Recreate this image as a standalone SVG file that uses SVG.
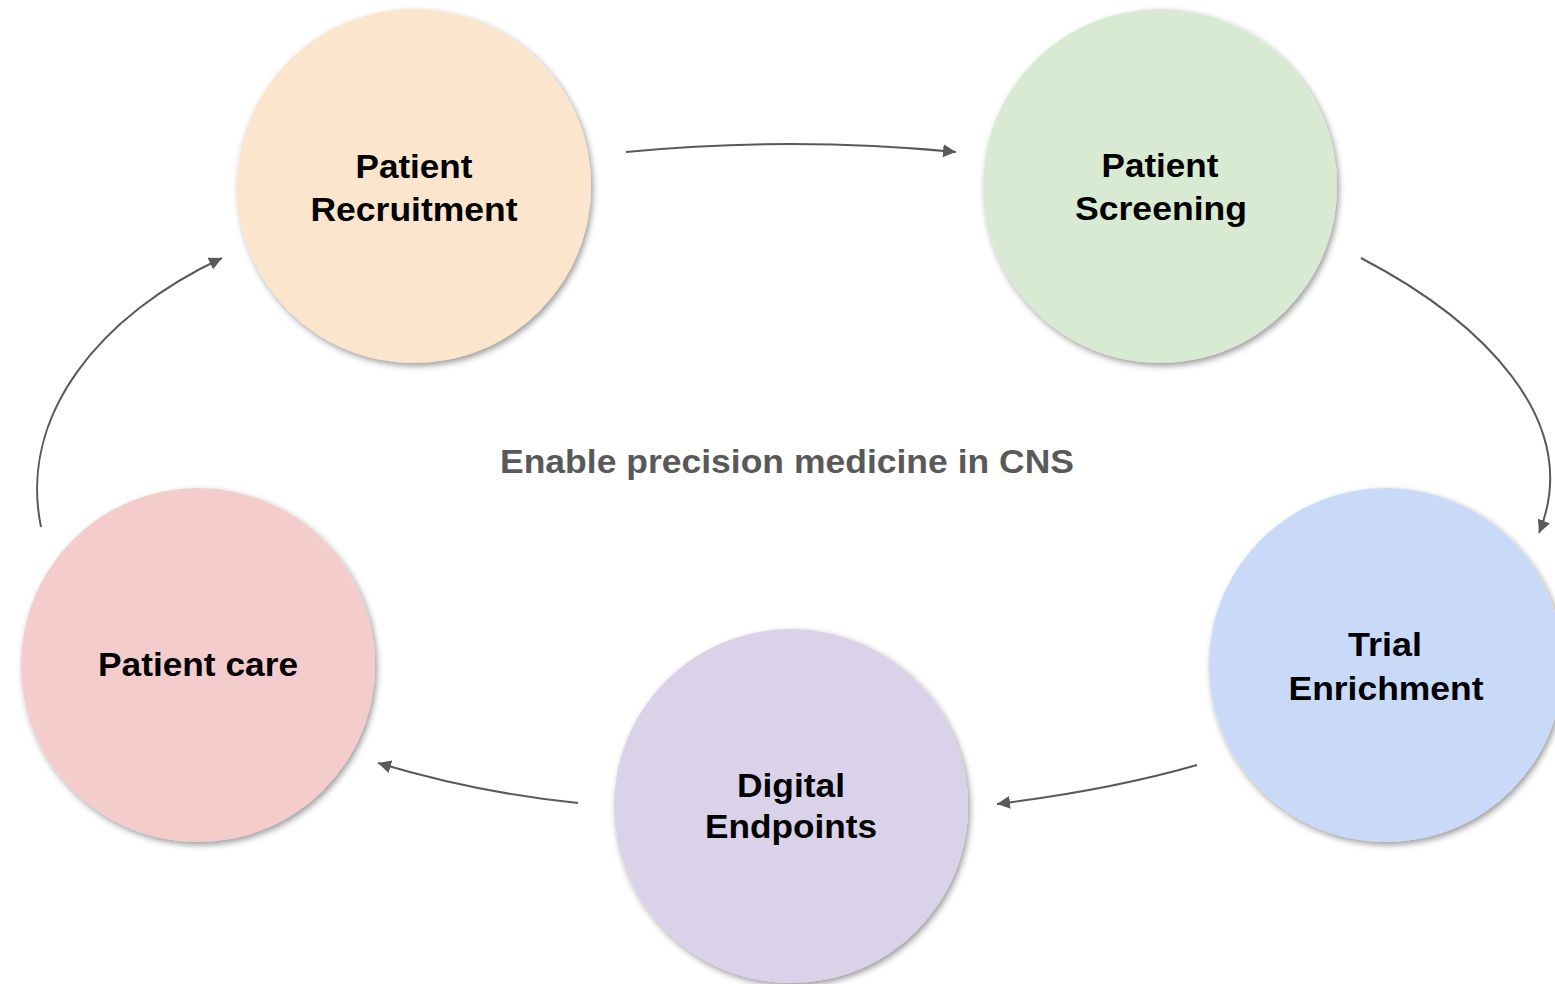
<svg xmlns="http://www.w3.org/2000/svg" width="1555" height="984" viewBox="0 0 1555 984">
<style>
.node text{font-family:"Liberation Sans",Arial,sans-serif;font-weight:bold;font-size:33px;fill:#000;text-anchor:middle}
.title{font-family:"Liberation Sans",Arial,sans-serif;font-weight:bold;font-size:33px;fill:#595959;text-anchor:middle}
.conn path{fill:none;stroke:#595959;stroke-width:2}
</style>
<defs>
<filter id="sh" x="-20%" y="-20%" width="140%" height="140%">
<feDropShadow dx="2" dy="3" stdDeviation="3" flood-color="#000" flood-opacity="0.4"/>
</filter>
<marker id="ah" markerUnits="userSpaceOnUse" markerWidth="14" markerHeight="13" refX="13" refY="6.5" orient="auto">
<path d="M0,0 L13,6.5 L0,13 z" fill="#595959"/>
</marker>
</defs>
<rect width="1555" height="984" fill="#fff"/>
<g class="conn" id="connectors">
<path d="M626,152 Q791,136 956,152" marker-end="url(#ah)"/>
<path d="M1361,258 C1480,320 1585,420 1539,533" marker-end="url(#ah)"/>
<path d="M1197,765 Q1110,790 997,804" marker-end="url(#ah)"/>
<path d="M578,803 Q478,793 378,763" marker-end="url(#ah)"/>
<path d="M41,527 C18,415 100,315 222,258" marker-end="url(#ah)"/>
</g>
<g class="node" id="recruitment">
<circle cx="414" cy="186" r="177" fill="#fce5cd" filter="url(#sh)"/>
<text x="414" y="178" textLength="117" lengthAdjust="spacingAndGlyphs">Patient</text>
<text x="414" y="221" textLength="207" lengthAdjust="spacingAndGlyphs">Recruitment</text>
</g>
<g class="node" id="screening">
<circle cx="1160" cy="186" r="177" fill="#d9ead3" filter="url(#sh)"/>
<text x="1160" y="177" textLength="117" lengthAdjust="spacingAndGlyphs">Patient</text>
<text x="1161" y="220" textLength="172" lengthAdjust="spacingAndGlyphs">Screening</text>
</g>
<g class="node" id="enrichment">
<circle cx="1386" cy="665" r="177" fill="#c9daf8" filter="url(#sh)"/>
<text x="1385" y="656" textLength="74" lengthAdjust="spacingAndGlyphs">Trial</text>
<text x="1386" y="700" textLength="195" lengthAdjust="spacingAndGlyphs">Enrichment</text>
</g>
<g class="node" id="endpoints">
<circle cx="791" cy="806" r="177" fill="#d9d2e9" filter="url(#sh)"/>
<text x="791" y="797" textLength="108" lengthAdjust="spacingAndGlyphs">Digital</text>
<text x="791" y="838" textLength="172" lengthAdjust="spacingAndGlyphs">Endpoints</text>
</g>
<g class="node" id="care">
<circle cx="198" cy="665" r="177" fill="#f4cccc" filter="url(#sh)"/>
<text x="198" y="676" textLength="200" lengthAdjust="spacingAndGlyphs">Patient care</text>
</g>
<text class="title" x="787" y="473" textLength="574" lengthAdjust="spacingAndGlyphs">Enable precision medicine in CNS</text>
</svg>
